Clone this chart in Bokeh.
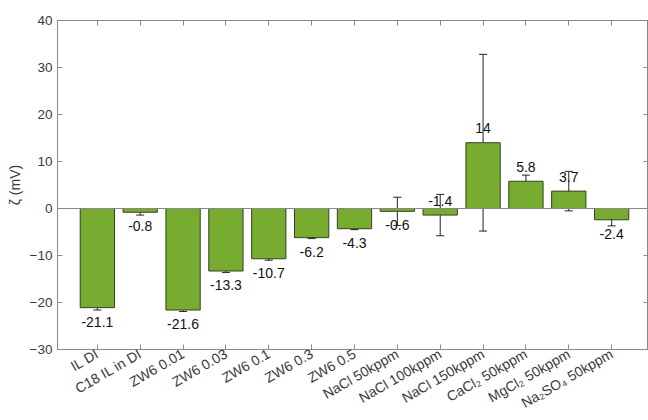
import math
from bokeh.plotting import figure
from bokeh.models import ColumnDataSource, Whisker, LinearAxis, FixedTicker, Span, TeeHead
from bokeh.core.properties import value
from bokeh.embed import file_html
from bokeh.resources import INLINE

categories = ["IL DI", "C18 IL in DI", "ZW6 0.01", "ZW6 0.03", "ZW6 0.1", "ZW6 0.3", "ZW6 0.5",
              "NaCl 50kppm", "NaCl 100kppm", "NaCl 150kppm", "CaCl\u2082 50kppm",
              "MgCl\u2082 50kppm", "Na\u2082SO\u2084 50kppm"]
zeta = [-21.1, -0.8, -21.6, -13.3, -10.7, -6.2, -4.3, -0.6, -1.4, 14.0, 5.8, 3.7, -2.4]
err = [0.5, 0.6, 0.3, 0.3, 0.3, 0.2, 0.2, 3.0, 4.4, 18.8, 1.3, 4.2, 1.3]
labels = ["-21.1", "-0.8", "-21.6", "-13.3", "-10.7", "-6.2", "-4.3", "-0.6", "-1.4", "14", "5.8", "3.7", "-2.4"]
label_above = [False, False, False, False, False, False, False, False, True, True, True, True, False]
y_ticks = [-30, -20, -10, 0, 10, 20, 30, 40]

xs = list(range(1, len(categories) + 1))
label_y = [v + 3.1 if up else v - 3.0 for v, up in zip(zeta, label_above)]
src = ColumnDataSource(dict(x=xs, top=zeta, lo=[v - e for v, e in zip(zeta, err)],
                            hi=[v + e for v, e in zip(zeta, err)], ly=label_y, txt=labels))

FONT = "Liberation Sans"
AXC = "#8a8a8a"
TXC = "#3a3a3a"

p = figure(width=648, height=420, output_backend="svg", toolbar_location=None,
           x_range=(0.07, 13.86), y_range=(-30, 40),
           min_border_left=57, min_border_right=0, min_border_top=20, min_border_bottom=71,
           x_axis_location=None, y_axis_location=None)
p.outline_line_color = AXC
p.outline_line_width = 1
p.xgrid.visible = False
p.ygrid.visible = False
p.background_fill_color = "white"
p.border_fill_color = "white"

def style_axis(ax, show_labels, size="14px"):
    ax.axis_line_color = AXC
    ax.major_tick_line_color = AXC
    ax.major_tick_in = 5
    ax.major_tick_out = 0
    ax.minor_tick_line_color = None
    ax.major_label_text_font = FONT
    ax.major_label_text_font_size = size
    ax.major_label_text_color = TXC
    if not show_labels:
        ax.major_label_text_font_size = "0px"
        ax.major_label_text_color = None
        ax.major_label_standoff = 0

xb = LinearAxis(ticker=FixedTicker(ticks=xs),
                major_label_overrides={i: c for i, c in zip(xs, categories)})
style_axis(xb, True, "14px")
xb.major_label_orientation = math.pi / 6
xb.major_label_standoff = 3
p.add_layout(xb, "below")

xt = LinearAxis(ticker=FixedTicker(ticks=xs))
style_axis(xt, False)
p.add_layout(xt, "above")

yl = LinearAxis(ticker=FixedTicker(ticks=y_ticks), axis_label="\u03b6 (mV)")
style_axis(yl, True, "13.5px")
yl.major_label_standoff = 5
yl.axis_label_text_font = FONT
yl.axis_label_text_font_style = "normal"
yl.axis_label_text_font_size = "14px"
yl.axis_label_text_color = TXC
yl.axis_label_standoff = 4
p.add_layout(yl, "left")

yr = LinearAxis(ticker=FixedTicker(ticks=y_ticks))
style_axis(yr, False)
p.add_layout(yr, "right")

p.vbar(x="x", top="top", bottom=0, width=0.8, source=src,
       fill_color="#77AC30", line_color="#34421f", line_width=1)
p.add_layout(Span(location=0, dimension="width", line_color="#888888", line_width=1))

wh = Whisker(base="x", lower="lo", upper="hi", source=src, line_color="#222222", line_width=1,
             upper_head=TeeHead(size=8, line_color="#222222", line_width=1),
             lower_head=TeeHead(size=8, line_color="#222222", line_width=1))
p.add_layout(wh)

p.text(x="x", y="ly", text="txt", source=src, text_align="center", text_baseline="middle",
       text_font=value(FONT), text_font_size="14px", text_color="#111111")

open("out.html", "w").write(file_html(p, INLINE))
